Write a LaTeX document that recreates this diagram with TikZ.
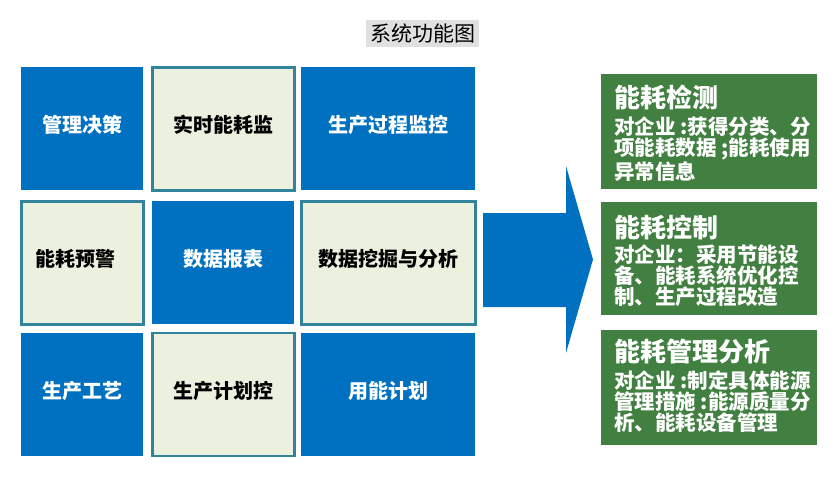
\documentclass[tikz,border=0pt]{standalone}
\usepackage{fontspec}
\setmainfont{Noto Sans CJK SC}
\definecolor{cellblue}{RGB}{0,112,192}
\definecolor{celllight}{RGB}{235,241,222}
\definecolor{cellborder}{RGB}{49,132,155}
\definecolor{boxgreen}{RGB}{65,128,65}
\definecolor{titlegray}{RGB}{224,224,224}
\begin{document}
\begin{tikzpicture}[x=1pt, y=-1pt]
    \tikzstyle{cell}=[minimum height=123pt, inner sep=0pt, text height=16pt, text depth=8pt, font=\fontsize{20}{24}\selectfont\bfseries]
    \tikzstyle{bluecell}=[cell, fill=cellblue, text=white]
    \tikzstyle{lightcell}=[cell, fill=celllight, draw=cellborder, line width=2.7pt]
    \tikzstyle{greenbox}=[fill=boxgreen, minimum width=216pt, inner sep=0pt]
    \tikzstyle{headtext}=[anchor=west, inner sep=0pt, text=white, font=\fontsize{26}{28}\selectfont\bfseries]
    \tikzstyle{bodytext}=[anchor=north west, inner sep=0pt, align=left, text=white, font=\fontsize{20.5}{21}\selectfont\bfseries]

    \useasboundingbox (0,0) rectangle (840,482);

    \node[fill=titlegray, minimum width=113pt, minimum height=27pt, inner sep=0pt, font=\fontsize{21}{24}\selectfont] (title) at (422.5,33.5) {系统功能图};

    \node[bluecell, minimum width=122pt] (jc) at (82.3,128.5) {管理决策};
    \node[lightcell, minimum width=142pt] (ssjk) at (223.3,128.8) {实时能耗监};
    \node[bluecell, minimum width=174pt] (scjk) at (388.3,128.5) {生产过程监控};

    \node[lightcell, minimum width=122pt] (yj) at (82.3,262.8) {能耗预警\hspace*{14pt}};
    \node[bluecell, minimum width=142pt] (bb) at (223.3,262.8) {数据报表};
    \node[lightcell, minimum width=174pt] (wj) at (388.3,262.8) {数据挖掘与分析};

    \node[bluecell, minimum width=122pt] (gy) at (82.3,394.5) {生产工艺};
    \node[lightcell, minimum width=142pt] (jh) at (223.3,394.5) {生产计划控};
    \node[bluecell, minimum width=174pt] (ynjh) at (388.3,394.5) {用能计划};

    \fill[cellblue] (483,213) -- (566,213) -- (566,166) -- (593,259.5) -- (566,353) -- (566,307) -- (483,307) -- cycle;

    \node[greenbox, minimum height=115pt] (g1) at (709,131.5) {};
    \node[greenbox, minimum height=113pt] (g2) at (709,258.5) {};
    \node[greenbox, minimum height=115pt] (g3) at (709,387.5) {};

    \node[headtext] (h1) at (614,97) {能耗检测};
    \node[bodytext] (b1) at (614,117) {对企业 :获得分类、分\\项能耗数据 ;能耗使用\\异常信息};

    \node[headtext] (h2) at (614,228) {能耗控制};
    \node[bodytext] (b2) at (614,245) {对企业：采用节能设\\备、能耗系统优化控\\制、生产过程改造};

    \node[headtext] (h3) at (614,352) {能耗管理分析};
    \node[bodytext] (b3) at (614,370) {对企业 :制定具体能源\\管理措施 :能源质量分\\析、能耗设备管理};
  \end{tikzpicture}
\end{document}
